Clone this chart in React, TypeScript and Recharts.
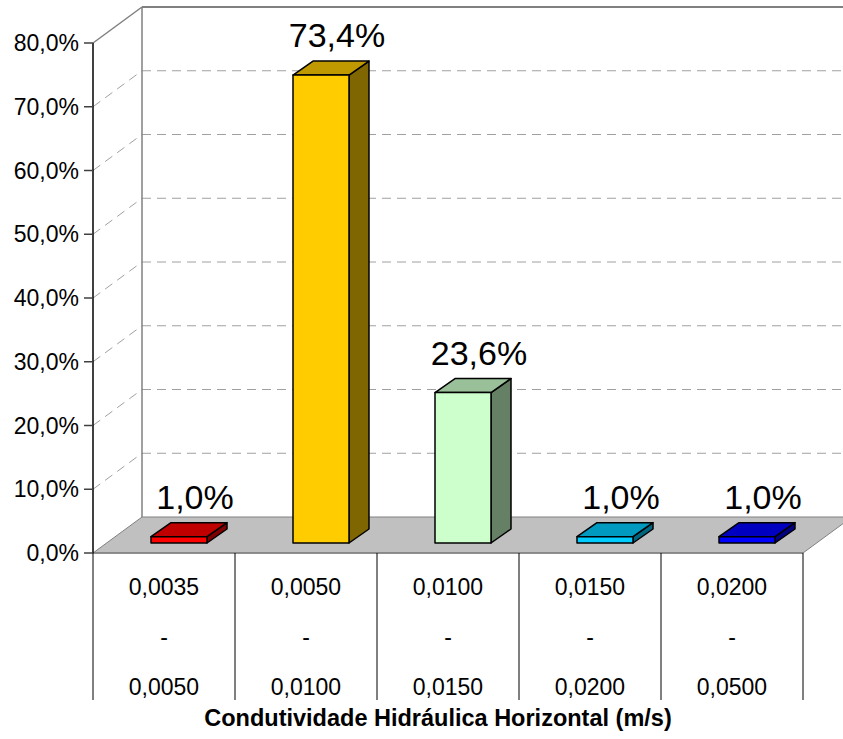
// 3D-style column chart: share of wells by horizontal hydraulic conductivity class
import { BarChart, Bar, XAxis, YAxis, CartesianGrid, LabelList } from 'recharts';

const rangeLow = ['0,0035', '0,0050', '0,0100', '0,0150', '0,0200'];
const rangeHigh = ['0,0050', '0,0100', '0,0150', '0,0200', '0,0500'];
const shares = [1.0, 73.4, 23.6, 1.0, 1.0];
const yTicks = [0, 10, 20, 30, 40, 50, 60, 70, 80];

const frontColors = ['#FF0000', '#FFCC00', '#CCFFCC', '#00CCFF', '#0000FF'];
const topColors = ['#C00000', '#C09900', '#99C099', '#0099C0', '#0000C0'];
const sideColors = ['#800000', '#806600', '#668066', '#006680', '#000080'];

const data = rangeLow.map((low, i) => ({ low, high: rangeHigh[i], share: shares[i] }));

const W = 843;
const H = 739;
const X_AXIS_H = 186;
const MARGIN = { top: 43, right: 40, bottom: 0, left: 0 };
const Y_AXIS_W = 93;
const PLOT_BOTTOM = H - X_AXIS_H;
const BAND = (W - MARGIN.right - Y_AXIS_W) / rangeLow.length;

// wall depth and bar depth (3D look)
const WALL_DX = 49;
const WALL_DY = 36;
const BAR_SHIFT_X = 15;
const BAR_SHIFT_Y = 10;
const BAR_DX = 20;
const BAR_DY = 14;

const FONT = 'Arial, "Liberation Sans", sans-serif';
const GRID = '#A0A0A0';
const EDGE = '#808080';

const fmt = (v: number) => v.toFixed(1).replace('.', ',') + '%';

function GridLine(p: any) {
  const { x1, x2, y1 } = p;
  if (Math.abs(y1 - PLOT_BOTTOM) < 1) {
    // floor
    return (
      <polygon
        key={p.key}
        points={`${x1},${y1} ${x2},${y1} ${x2 + WALL_DX},${y1 - WALL_DY} ${x1 + WALL_DX},${y1 - WALL_DY}`}
        fill="#C0C0C0"
        stroke={EDGE}
        strokeWidth={1}
      />
    );
  }
  if (Math.abs(y1 - MARGIN.top) < 1) {
    // top edges of the walls + back wall left edge
    return (
      <g key={p.key}>
        <line x1={x1 + WALL_DX} y1={y1 - WALL_DY} x2={x1 + WALL_DX} y2={PLOT_BOTTOM - WALL_DY} stroke={EDGE} strokeWidth={1.5} />
        <line x1={x1} y1={y1} x2={x1 + WALL_DX} y2={y1 - WALL_DY} stroke={EDGE} strokeWidth={1.5} />
        <line x1={x1 + WALL_DX} y1={y1 - WALL_DY} x2={x2 + WALL_DX} y2={y1 - WALL_DY} stroke={EDGE} strokeWidth={2} />
      </g>
    );
  }
  return (
    <g key={p.key}>
      <line x1={x1} y1={y1} x2={x1 + WALL_DX} y2={y1 - WALL_DY} stroke={GRID} strokeDasharray="9 6" />
      <line x1={x1 + WALL_DX} y1={y1 - WALL_DY} x2={x2 + WALL_DX} y2={y1 - WALL_DY} stroke={GRID} strokeDasharray="9 6" />
    </g>
  );
}

function Bar3D(p: any) {
  const { x, y, width, height, index } = p;
  const x0 = x + BAR_SHIFT_X;
  const x1 = x0 + width;
  const y0 = y - BAR_SHIFT_Y;
  const yb = y0 + height;
  return (
    <g stroke="#000" strokeWidth={1.5} strokeLinejoin="round">
      <polygon
        points={`${x1},${y0} ${x1 + BAR_DX},${y0 - BAR_DY} ${x1 + BAR_DX},${yb - BAR_DY} ${x1},${yb}`}
        fill={sideColors[index]}
      />
      <polygon
        points={`${x0},${y0} ${x0 + BAR_DX},${y0 - BAR_DY} ${x1 + BAR_DX},${y0 - BAR_DY} ${x1},${y0}`}
        fill={topColors[index]}
      />
      <rect x={x0} y={y0} width={width} height={height} fill={frontColors[index]} />
    </g>
  );
}

function ValueLabel(p: any) {
  const { x, y, width, value } = p;
  return (
    <text
      x={x + width / 2 + BAR_SHIFT_X + 16}
      y={y - 38}
      textAnchor="middle"
      fontSize={34}
      fontFamily={FONT}
      fill="#000"
    >
      {fmt(value)}
    </text>
  );
}

function CategoryTick(p: any) {
  const { x, index, payload } = p;
  const row = data[index] ?? data.find((d) => d.low === payload.value);
  const left = x - BAND / 2;
  const right = x + BAND / 2;
  return (
    <g>
      <line x1={left} y1={PLOT_BOTTOM} x2={left} y2={700} stroke="#000" strokeWidth={1} />
      {index === data.length - 1 && (
        <line x1={right} y1={PLOT_BOTTOM} x2={right} y2={700} stroke="#000" strokeWidth={1} />
      )}
      <g fontSize={23} fontFamily={FONT} fill="#000" textAnchor="middle">
        <text x={x} y={595}>{row.low}</text>
        <text x={x} y={645}>-</text>
        <text x={x} y={695}>{row.high}</text>
      </g>
    </g>
  );
}

export default function App() {
  return (
    <div style={{ position: 'absolute', left: 0, top: 0, width: W, height: H, background: '#fff' }}>
      <BarChart width={W} height={H} data={data} margin={MARGIN}>
        <CartesianGrid horizontal={GridLine} vertical={false} />
        <XAxis
          dataKey="low"
          interval={0}
          tickLine={false}
          axisLine={{ stroke: EDGE, strokeWidth: 1.5 }}
          tick={CategoryTick}
          height={X_AXIS_H}
          label={{
            content: () => (
              <text x={438} y={726} textAnchor="middle" fontSize={23.5} fontWeight="bold" fontFamily={FONT} fill="#000">
                Condutividade Hidráulica Horizontal (m/s)
              </text>
            ),
          }}
        />
        <YAxis
          width={Y_AXIS_W}
          domain={[0, 80]}
          ticks={yTicks}
          interval={0}
          tickFormatter={fmt}
          tickSize={9}
          tickMargin={5}
          axisLine={{ stroke: '#000', strokeWidth: 1.5 }}
          tickLine={{ stroke: '#404040', strokeWidth: 1.5 }}
          tick={{ fontSize: 23, fontFamily: FONT, fill: '#000' }}
        />
        <Bar dataKey="share" barSize={56} shape={Bar3D} isAnimationActive={false}>
          <LabelList dataKey="share" content={ValueLabel} />
        </Bar>
      </BarChart>
    </div>
  );
}
